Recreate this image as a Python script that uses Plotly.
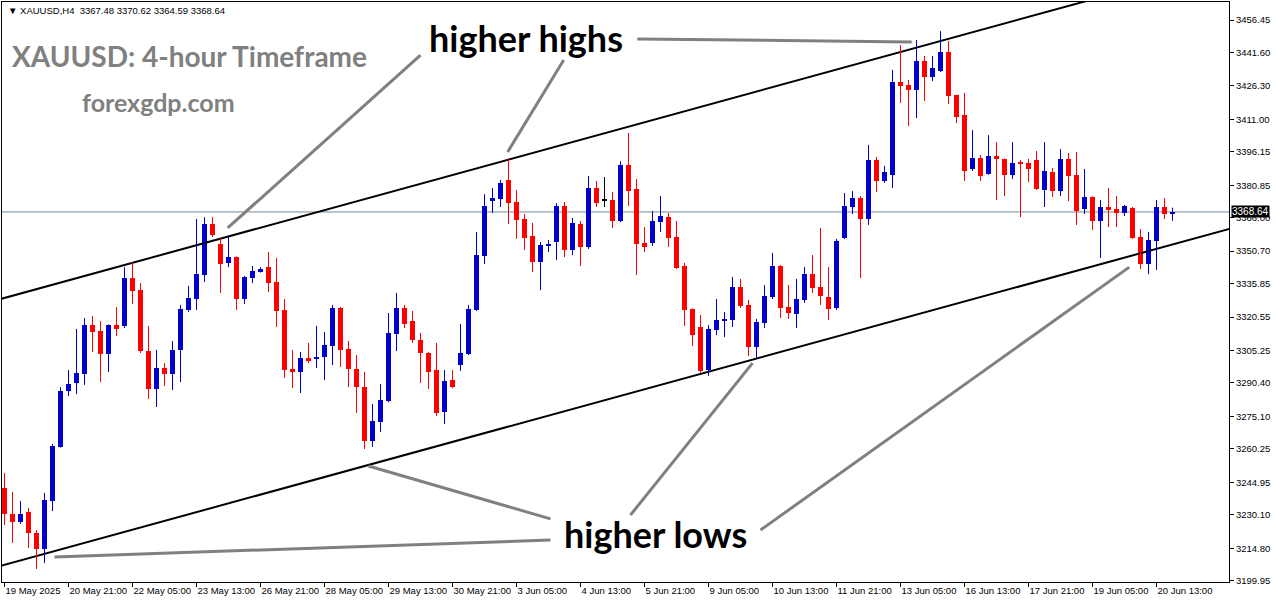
import plotly.graph_objects as go

# ---------------- data ----------------
opens = [3242.3, 3230.4, 3226.8, 3231.4, 3221.8, 3214.4, 3236.4, 3261.1, 3286.7, 3290.4,
         3294.5, 3316.9, 3314.2, 3303.6, 3316.9, 3316.5, 3338.4, 3332.9, 3305.0, 3287.6,
         3297.2, 3294.5, 3305.5, 3323.8, 3328.8, 3339.8, 3363.1, 3354.0, 3345.3, 3348.0,
         3328.8, 3338.4, 3341.2, 3343.4, 3336.6, 3323.8, 3296.8, 3295.4, 3301.8, 3301.4,
         3302.3, 3307.3, 3324.7, 3306.0, 3296.8, 3288.5, 3263.8, 3272.5, 3282.1, 3312.8,
         3324.7, 3318.7, 3310.1, 3304.1, 3296.3, 3277.1, 3291.7, 3298.6, 3303.6, 3323.8,
         3348.5, 3374.1, 3374.6, 3383.3, 3373.2, 3365.4, 3357.6, 3345.7, 3353.1, 3354.9,
         3371.4, 3351.2, 3363.1, 3352.6, 3379.6, 3374.1, 3374.1, 3364.5, 3390.1, 3379.1,
         3354.4, 3354.4, 3364.0, 3366.3, 3357.2, 3343.9, 3324.2, 3316.0, 3296.3, 3314.6,
         3318.7, 3319.2, 3334.3, 3326.1, 3306.8, 3317.8, 3329.7, 3343.9, 3325.1, 3321.9,
         3328.4, 3340.2, 3334.3, 3329.7, 3324.7, 3356.7, 3370.9, 3375.0, 3365.4, 3392.4,
         3382.8, 3385.5, 3428.1, 3426.7, 3424.4, 3437.7, 3430.4, 3433.1, 3441.8, 3422.1,
         3413.0, 3388.3, 3393.3, 3386.0, 3394.2, 3392.9, 3385.5, 3391.0, 3391.0, 3392.4,
         3378.7, 3386.9, 3378.2, 3392.9, 3385.5, 3370.0, 3375.5, 3364.5, 3370.9, 3370.0,
         3368.2, 3370.5, 3357.2, 3344.8, 3355.3, 3370.9, 3367.48]
highs = [3249.2, 3240.5, 3236.4, 3233.2, 3223.1, 3240.1, 3262.5, 3288.5, 3296.3, 3315.1,
         3320.1, 3321.0, 3318.7, 3317.2, 3325.1, 3343.4, 3345.7, 3336.1, 3316.5, 3305.5,
         3299.5, 3309.6, 3326.1, 3334.8, 3365.4, 3366.3, 3366.3, 3356.7, 3357.2, 3348.3,
         3339.3, 3343.9, 3343.4, 3350.3, 3347.6, 3328.8, 3305.5, 3304.6, 3308.7, 3316.5,
         3313.7, 3326.1, 3325.1, 3309.6, 3303.2, 3295.4, 3280.8, 3289.9, 3322.4, 3331.6,
         3326.1, 3323.3, 3313.3, 3304.6, 3308.7, 3296.3, 3296.3, 3317.4, 3326.1, 3359.5,
         3376.8, 3379.6, 3383.3, 3393.3, 3378.7, 3367.7, 3363.6, 3354.9, 3355.8, 3372.7,
         3373.2, 3365.9, 3364.5, 3385.1, 3382.8, 3384.6, 3377.8, 3391.9, 3404.8, 3383.7,
         3361.7, 3369.1, 3375.9, 3368.2, 3364.5, 3345.3, 3324.5, 3321.5, 3316.9, 3328.8,
         3322.9, 3338.9, 3338.0, 3328.4, 3319.7, 3335.2, 3349.9, 3344.4, 3335.2, 3338.0,
         3343.4, 3348.9, 3361.3, 3343.4, 3356.3, 3377.3, 3378.2, 3375.9, 3399.3, 3393.8,
         3389.7, 3433.6, 3445.0, 3429.0, 3447.3, 3440.0, 3440.0, 3451.4, 3446.8, 3422.3,
         3423.1, 3406.1, 3394.7, 3403.8, 3400.6, 3393.1, 3400.6, 3392.4, 3392.9, 3396.5,
         3400.6, 3388.7, 3397.4, 3395.6, 3396.1, 3388.3, 3375.8, 3374.1, 3379.6, 3375.9,
         3371.8, 3370.9, 3360.8, 3359.5, 3374.1, 3375.0, 3370.62]
lows = [3225.4, 3217.2, 3225.9, 3214.9, 3205.3, 3208.0, 3231.8, 3260.8, 3284.4, 3285.3,
        3289.5, 3304.6, 3290.8, 3295.4, 3311.9, 3315.5, 3326.5, 3304.1, 3283.1, 3279.4,
        3289.0, 3287.2, 3290.8, 3322.9, 3323.8, 3336.6, 3357.2, 3331.6, 3343.4, 3323.8,
        3326.5, 3336.1, 3340.9, 3332.0, 3316.0, 3292.7, 3288.1, 3285.8, 3299.5, 3297.2,
        3291.7, 3298.6, 3297.7, 3288.5, 3276.7, 3260.2, 3261.1, 3268.0, 3281.6, 3305.0,
        3315.5, 3308.7, 3290.4, 3287.6, 3275.3, 3271.6, 3288.0, 3295.9, 3303.2, 3323.4,
        3344.8, 3368.2, 3370.9, 3363.1, 3356.3, 3351.2, 3341.2, 3332.9, 3350.3, 3346.6,
        3348.0, 3348.9, 3343.9, 3351.7, 3370.9, 3370.9, 3361.3, 3364.0, 3371.4, 3339.8,
        3350.3, 3353.1, 3359.5, 3352.6, 3342.6, 3316.5, 3307.3, 3295.2, 3293.6, 3312.3,
        3311.4, 3316.0, 3324.7, 3302.7, 3301.8, 3315.5, 3328.8, 3320.1, 3319.7, 3315.5,
        3327.0, 3331.6, 3326.1, 3319.2, 3323.8, 3356.3, 3367.7, 3338.4, 3362.7, 3377.8,
        3381.9, 3379.6, 3418.5, 3407.9, 3411.6, 3419.4, 3428.5, 3432.7, 3418.0, 3409.3,
        3382.8, 3387.4, 3382.8, 3385.7, 3374.1, 3375.9, 3383.7, 3366.3, 3382.3, 3378.7,
        3370.9, 3375.5, 3375.9, 3373.6, 3362.7, 3367.7, 3360.4, 3347.6, 3361.7, 3361.7,
        3366.8, 3356.3, 3342.5, 3340.2, 3342.1, 3365.4, 3364.59]
closes = [3230.4, 3226.8, 3230.4, 3221.8, 3214.4, 3236.9, 3261.6, 3286.7, 3289.9, 3295.0,
          3316.9, 3313.7, 3303.6, 3316.9, 3315.1, 3338.4, 3332.5, 3305.0, 3287.6, 3297.2,
          3294.5, 3305.5, 3324.2, 3329.3, 3340.2, 3363.1, 3358.1, 3344.8, 3348.0, 3328.8,
          3338.9, 3341.6, 3342.5, 3336.1, 3323.3, 3296.3, 3295.4, 3301.8, 3300.4, 3302.3,
          3307.8, 3324.7, 3305.5, 3296.8, 3288.5, 3263.8, 3273.0, 3282.6, 3313.3, 3324.7,
          3317.4, 3310.1, 3304.1, 3295.4, 3276.7, 3291.3, 3288.5, 3304.1, 3324.2, 3348.9,
          3371.4, 3375.0, 3381.9, 3372.7, 3365.0, 3356.7, 3345.7, 3353.5, 3354.0, 3371.4,
          3351.2, 3363.6, 3352.6, 3379.6, 3372.7, 3374.1, 3364.5, 3390.1, 3378.2, 3354.0,
          3352.6, 3364.5, 3366.8, 3356.7, 3343.0, 3323.8, 3312.3, 3295.9, 3315.1, 3319.2,
          3319.7, 3334.3, 3325.6, 3306.8, 3318.3, 3330.2, 3343.9, 3324.7, 3322.4, 3328.8,
          3340.2, 3333.8, 3330.2, 3324.2, 3355.3, 3371.4, 3375.0, 3365.4, 3392.4, 3382.8,
          3386.9, 3428.1, 3426.3, 3424.4, 3437.7, 3430.4, 3434.5, 3441.8, 3421.7, 3412.1,
          3387.4, 3393.3, 3385.1, 3394.2, 3392.9, 3385.5, 3391.0, 3390.8, 3388.3, 3379.1,
          3387.4, 3378.2, 3392.9, 3385.1, 3369.1, 3375.5, 3364.5, 3370.9, 3369.5, 3368.2,
          3371.4, 3356.7, 3344.8, 3355.8, 3370.9, 3367.5, 3368.64]

# x-axis time labels (every 8th H4 bar)
xtick_bars = [0, 8, 16, 24, 32, 40, 48, 56, 64, 72, 80, 88, 96, 104, 112, 120, 128, 136, 144]
xtick_labels = ["19 May 2025", "20 May 21:00", "22 May 05:00", "23 May 13:00", "26 May 21:00",
                "28 May 05:00", "29 May 13:00", "30 May 21:00", "3 Jun 05:00", "4 Jun 13:00",
                "5 Jun 21:00", "9 Jun 05:00", "10 Jun 13:00", "11 Jun 21:00", "13 Jun 05:00",
                "16 Jun 13:00", "17 Jun 21:00", "19 Jun 05:00", "20 Jun 13:00"]
# price-axis labels
ytick_vals = [3456.45, 3441.60, 3426.30, 3411.00, 3396.15, 3380.85, 3366.00, 3350.70, 3335.85,
              3320.55, 3305.25, 3290.40, 3275.10, 3260.25, 3244.95, 3230.10, 3214.80, 3199.95]
last_price = 3368.64

# channel trend lines (bar index, price)
upper_line_bars = [-1, 155]
upper_line_prices = [3328.3, 3485.0]
lower_line_bars = [-1, 155]
lower_line_prices = [3206.2, 3362.8]

# grey pointer lines (bar index, price) -> (bar index, price)
pointers = [
    ((52.0, 3440.4), (27.9, 3361.3)),
    ((69.9, 3438.2), (62.9, 3396.1)),
    ((79.1, 3447.8), (113.4, 3446.4)),
    ((68.25, 3228.2), (45.5, 3252.4)),
    ((68.25, 3218.5), (6.25, 3210.8)),
    ((78.25, 3230.0), (93.5, 3299.5)),
    ((94.5, 3223.1), (140.6, 3343.4)),
]

# ---------------- figure ----------------
BULL = "#0000CD"
BEAR = "#FF0000"
DOJI = "#000000"

n = len(opens)
idx = list(range(n))
colors, base, height = [], [], []
for o, c in zip(opens, closes):
    if c > o:
        colors.append(BULL)
    elif c < o:
        colors.append(BEAR)
    else:
        colors.append(DOJI)
    base.append(min(o, c))
    height.append(max(abs(c - o), 0.45))

fig = go.Figure()

# channel lines
fig.add_trace(go.Scatter(x=upper_line_bars, y=upper_line_prices, mode="lines",
                         line=dict(color="black", width=2), hoverinfo="skip"))
fig.add_trace(go.Scatter(x=lower_line_bars, y=lower_line_prices, mode="lines",
                         line=dict(color="black", width=2), hoverinfo="skip"))

# wicks
for col in (BULL, BEAR, DOJI):
    wx, wy = [], []
    for i in idx:
        if colors[i] == col:
            wx += [i, i, None]
            wy += [lows[i], highs[i], None]
    if wx:
        fig.add_trace(go.Scatter(x=wx, y=wy, mode="lines",
                                 line=dict(color=col, width=1), hoverinfo="skip"))

# bodies
fig.add_trace(go.Bar(x=idx, y=height, base=base, width=0.62,
                     marker=dict(color=colors, line=dict(width=0)), hoverinfo="skip"))

# grey pointer lines
for (x0, y0), (x1, y1) in pointers:
    fig.add_trace(go.Scatter(x=[x0, x1], y=[y0, y1], mode="lines",
                             line=dict(color="#808080", width=3), hoverinfo="skip"))

# last price line
fig.add_shape(type="line", xref="paper", x0=0, x1=1, yref="y", y0=last_price, y1=last_price,
              line=dict(color="#778899", width=1), layer="below")

small_font = dict(family="Liberation Sans, Arial, sans-serif", size=9.5, color="black")

annotations = [
    dict(xref="paper", yref="y", x=1, y=last_price, xanchor="left", yanchor="middle",
         xshift=2, text=f"{last_price:.2f}", showarrow=False, bgcolor="black",
         borderpad=0, font=dict(family="Liberation Sans, Arial, sans-serif", size=10, color="white")),
    dict(xref="paper", yref="paper", x=0.0033, y=0.9862, xanchor="left", yanchor="middle",
         text="\u25bc XAUUSD,H4\u00a0\u00a0" + " ".join(f"{v:.2f}" for v in
               (opens[-1], highs[-1], lows[-1], closes[-1])),
         showarrow=False, font=small_font),
    dict(xref="paper", yref="paper", x=0.0065, y=0.9069, xanchor="left", yanchor="middle",
         text="<b>XAUUSD: 4-hour Timeframe</b>", showarrow=False,
         font=dict(family="Lato, sans-serif", size=28, color="#808080")),
    dict(xref="paper", yref="paper", x=0.0636, y=0.8276, xanchor="left", yanchor="middle",
         text="<b>forexgdp.com</b>", showarrow=False,
         font=dict(family="Lato, sans-serif", size=25, color="#808080")),
    dict(xref="paper", yref="paper", x=0.4271, y=0.9379, xanchor="center", yanchor="middle",
         text="<b>higher highs</b>", showarrow=False,
         font=dict(family="Lato, sans-serif", size=36, color="black")),
    dict(xref="paper", yref="paper", x=0.5322, y=0.0828, xanchor="center", yanchor="middle",
         text="<b>higher lows</b>", showarrow=False,
         font=dict(family="Lato, sans-serif", size=36, color="black")),
]

fig.update_layout(
    width=1276, height=604,
    margin=dict(l=2, r=47, t=2, b=22, autoexpand=False),
    paper_bgcolor="white", plot_bgcolor="white",
    showlegend=False, barmode="overlay", bargap=0,
    annotations=annotations,
    xaxis=dict(range=[-0.3125, 153.0625], showgrid=False, zeroline=False,
               showline=True, linecolor="black", linewidth=1, mirror=True,
               tickmode="array", tickvals=xtick_bars, ticktext=xtick_labels,
               ticks="outside", ticklen=4, tickcolor="black", tickwidth=1,
               tickangle=0, automargin=False,
               ticklabelposition="outside right", tickfont=small_font),
    yaxis=dict(range=[3199.33, 3464.7], side="right", showgrid=False, zeroline=False,
               showline=True, linecolor="black", linewidth=1, mirror=True,
               tickmode="array", tickvals=ytick_vals,
               ticktext=[f"{v:.2f}" for v in ytick_vals],
               ticks="outside", ticklen=4, tickcolor="black", tickwidth=1,
               automargin=False, tickfont=small_font),
)

fig.write_html("out.html",
               config={"displayModeBar": False},
               post_script="document.body.style.margin='0';document.body.style.overflow='hidden';")
